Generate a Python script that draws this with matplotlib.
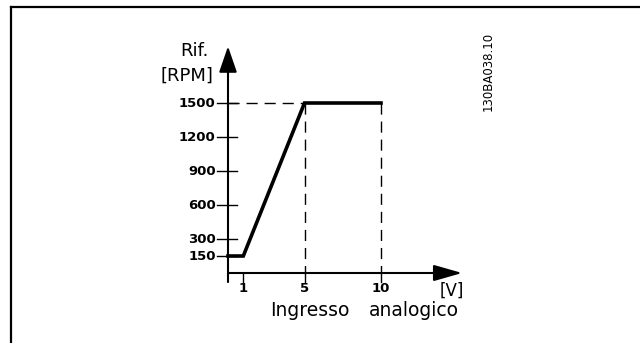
import matplotlib.pyplot as plt
from matplotlib.lines import Line2D

# reference curve: analog input [V] -> speed reference [RPM]
volts = [0, 1, 5, 10]
rpm = [150, 150, 1500, 1500]
y_ticks = [150, 300, 600, 900, 1200, 1500]
x_ticks = [1, 5, 10]

W, H = 640, 343
fig = plt.figure(figsize=(W / 100, H / 100), dpi=100)

# axes placed so that 0 V sits at x=228 px and 0 RPM at y=273 px
px_per_v = 15.3
px_per_rpm = 170 / 1500
xlim = (-1.0, 16.5)
ylim = (-200, 2100)
left = 228 + xlim[0] * px_per_v
width = (xlim[1] - xlim[0]) * px_per_v
bottom = 273 - ylim[0] * px_per_rpm
height = (ylim[1] - ylim[0]) * px_per_rpm
ax = fig.add_axes([left / W, (H - bottom) / H, width / W, height / H])
ax.set_xlim(*xlim)
ax.set_ylim(*ylim)
ax.axis('off')

# border lines
fig.add_artist(Line2D([11 / W, 11 / W], [0, 1 - 7 / H], color='black', lw=1.6))
fig.add_artist(Line2D([11 / W, 1], [1 - 7 / H, 1 - 7 / H], color='black', lw=1.6))

# axes with arrow heads
ax.annotate('', xy=(0, 2000), xytext=(0, -80),
            arrowprops=dict(arrowstyle='-|>,head_length=1.6,head_width=0.55',
                            color='black', lw=1.5, shrinkA=0, shrinkB=0,
                            mutation_scale=10))
ax.annotate('', xy=(15.3, 0), xytext=(0, 0),
            arrowprops=dict(arrowstyle='-|>,head_length=1.75,head_width=0.5',
                            color='black', lw=1.5, shrinkA=0, shrinkB=0,
                            mutation_scale=10))

# y ticks
for v in y_ticks:
    ax.plot([-0.75, 0.6], [v, v], color='black', lw=1.0)
    ax.text(-0.8, v, str(v), ha='right', va='center', fontsize=9.5,
            fontweight='bold')

# x ticks
for v in x_ticks:
    ax.plot([v, v], [0, -80], color='black', lw=1.0)
    ax.text(v, -75, str(v), ha='center', va='top', fontsize=9.5,
            fontweight='bold')

# dashed guides
ax.plot([0, 5], [1500, 1500], color='black', lw=1.0, dashes=(8, 5))
ax.plot([5, 5], [1500, 0], color='black', lw=1.0, dashes=(8, 5))
ax.plot([10, 10], [1500, 0], color='black', lw=1.0, dashes=(8, 5))

# characteristic
ax.plot(volts, rpm, color='black', lw=2.6, solid_joinstyle='miter')

# labels
ax.text(-2.2, 1960, 'Rif.', ha='center', va='center', fontsize=13)
ax.text(-0.95, 1740, '[RPM]', ha='right', va='center', fontsize=13)
ax.text(14.6, -80, '[V]', ha='center', va='top', fontsize=12)
ax.text(2.75, -245, 'Ingresso', ha='left', va='top', fontsize=13.5)
ax.text(9.2, -245, 'analogico', ha='left', va='top', fontsize=13.5)

fig.text(488 / W, 1 - 71 / H, '130BA038.10', rotation=90, ha='center',
         va='center', fontsize=8.5)

fig.savefig('out.png', dpi=100)
